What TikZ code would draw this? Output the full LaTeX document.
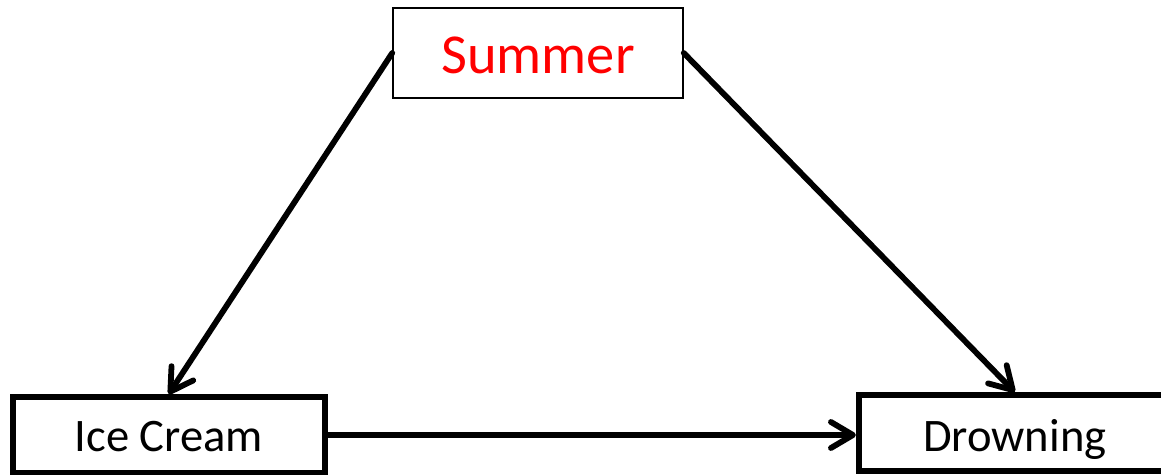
\documentclass[tikz,border=0pt]{standalone}
\usepackage{fontspec}
\setmainfont{Carlito}
\usetikzlibrary{arrows.meta}

\begin{document}
\begin{tikzpicture}[x=0.5pt, y=-0.5pt,
      cause/.style={draw=black, line width=0.75pt, fill=white,
        text=red, font=\fontsize{28.2}{34}\selectfont,
        minimum width=145pt, minimum height=45pt, inner sep=0pt,
        text height=20.3pt, text depth=0pt},
      var/.style={draw=black, line width=2.9pt, fill=white,
        font=\fontsize{23.3}{28}\selectfont,
        minimum width=156pt, minimum height=38pt, inner sep=0pt,
        text height=16.5pt, text depth=0pt},
      link/.style={line width=2.9pt, line cap=round, draw=black,
        -{Straight Barb[round, length=11pt, width=13pt]}}
    ]
    \useasboundingbox (0,0) rectangle (1161,475);
    \clip (0,0) rectangle (1161,475);
    \node[cause] (summer)   at (538,53)    {Summer};
    \node[var]   (icecream) at (168.75,435) {Ice Cream};
    \node[var, text height=18.7pt] (drowning) at (1014.75,433) {Drowning};
    \draw[link] (summer.west) -- (icecream.north);
    \draw[link] (summer.east) -- (drowning.north);
    \draw[link] (icecream.east) -- (icecream.east -| drowning.west);
  \end{tikzpicture}
\end{document}
